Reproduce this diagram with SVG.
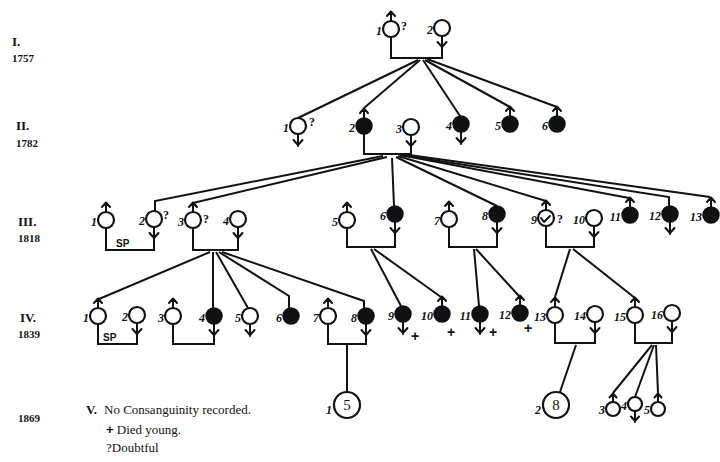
<svg xmlns="http://www.w3.org/2000/svg" xmlns:xlink="http://www.w3.org/1999/xlink" width="720" height="462" viewBox="0 0 720 462">
<style>
.bg{fill:#fff}
.o{fill:#fff;stroke:#111;stroke-width:2.2}
.b{fill:#111;stroke:#111;stroke-width:1.5}
.mk{fill:none;stroke:#111;stroke-width:2;stroke-linecap:round;stroke-linejoin:round}
.ln{fill:none;stroke:#111;stroke-width:2;stroke-linejoin:miter}
.n{font-family:"Liberation Serif",serif;font-size:12px;fill:#111;font-style:italic;font-weight:bold;text-anchor:end}
.q{font-family:"Liberation Serif",serif;font-size:12px;fill:#111;font-weight:bold}
.sp{font-family:"Liberation Sans",sans-serif;font-size:10px;fill:#111;font-weight:bold}
.g{font-family:"Liberation Serif",serif;font-size:13px;font-weight:bold;fill:#111}
.y{font-family:"Liberation Serif",serif;font-size:11px;font-weight:bold;fill:#111}
.lg{font-family:"Liberation Serif",serif;font-size:13px;fill:#111}
.pl{font-family:"Liberation Sans",sans-serif;font-size:14px;font-weight:bold;fill:#111}
.big{font-family:"Liberation Serif",serif;font-size:15px;fill:#111}
</style>
<defs>
<circle id="o" class="o" r="8"/>
<circle id="b" class="b" r="8"/>
<circle id="os" class="o" r="7"/>
<path id="m" class="mk" d="M0,-8 V-17 M-4,-13 L0,-17.5 L4,-13"/>
<path id="f" class="mk" d="M0,8 V20 M-4.5,14 L0,19 L4.5,14"/>
<path id="ms" class="mk" d="M0,-7 V-15 M-3.5,-11.5 L0,-15.5 L3.5,-11.5"/>
<path id="fs" class="mk" d="M0,7 V18 M-4,12.5 L0,17 L4,12.5"/>
</defs>
<rect class="bg" width="720" height="462"/>

<g id="gen-labels">
<text class="g" x="12" y="46">I.</text><text class="y" x="12" y="62">1757</text>
<text class="g" x="16" y="130">II.</text><text class="y" x="16" y="147">1782</text>
<text class="g" x="18" y="226">III.</text><text class="y" x="18" y="242">1818</text>
<text class="g" x="20" y="322">IV.</text><text class="y" x="18" y="338">1839</text>
<text class="y" x="18" y="422">1869</text>
</g>

<g id="connectors">
<path class="ln" d="M391,37 V58 H442 V36"/>
<path class="ln" d="M418,60 L298,118"/>
<path class="ln" d="M420,60 L364,108"/>
<path class="ln" d="M423,60 L460,116"/>
<path class="ln" d="M425,60 L510,107"/>
<path class="ln" d="M427,59 L557,107"/>
<path class="ln" d="M364,134 V154 H411 V135"/>
<path class="ln" d="M383,156 L155,201 V211"/>
<path class="ln" d="M387,157 L193,203"/>
<path class="ln" d="M392,158 L394,206"/>
<path class="ln" d="M396,157 L497,206"/>
<path class="ln" d="M398,156 L546,201"/>
<path class="ln" d="M400,155 L629,198"/>
<path class="ln" d="M401,155 L669,197 V206"/>
<path class="ln" d="M402,154 L710,197"/>
<path class="ln" d="M106,228 V250 H154 V232"/>
<path class="ln" d="M193,228 V250 H238 V232"/>
<path class="ln" d="M347,228 V247 H395 V226"/>
<path class="ln" d="M449,227 V247 H497 V226"/>
<path class="ln" d="M546,226 V247 H594 V230"/>
<path class="ln" d="M210,252 L99,299"/>
<path class="ln" d="M213,252 L213,308"/>
<path class="ln" d="M216,252 L248,308"/>
<path class="ln" d="M219,252 L289,296 V308"/>
<path class="ln" d="M222,252 L364,301 V308"/>
<path class="ln" d="M371,249 L401,306"/>
<path class="ln" d="M374,249 L441,297"/>
<path class="ln" d="M474,249 L479,306"/>
<path class="ln" d="M476,249 L519,296"/>
<path class="ln" d="M570,249 L555,297"/>
<path class="ln" d="M573,249 L635,298"/>
<path class="ln" d="M98,324 V344 H137 V328"/>
<path class="ln" d="M173,324 V344 H214 V330"/>
<path class="ln" d="M328,324 V344 H366 V330"/>
<path class="ln" d="M555,323 V343 H595 V327"/>
<path class="ln" d="M635,323 V343 H672 V326"/>
<path class="ln" d="M347,344 V392"/>
<path class="ln" d="M576,345 L560,392"/>
<path class="ln" d="M652,345 L613,393"/>
<path class="ln" d="M654,345 L635,397"/>
<path class="ln" d="M656,345 L658,393"/>
</g>

<g id="I-1"><use href="#m" x="391" y="29"/><use href="#o" x="391" y="29"/><text class="n" x="382" y="35">1</text><text class="q" x="401" y="30">?</text></g>
<g id="I-2"><use href="#f" x="442" y="28"/><use href="#o" x="442" y="28"/><text class="n" x="433" y="34">2</text></g>

<g id="II-1"><use href="#f" x="298" y="126"/><use href="#o" x="298" y="126"/><text class="n" x="289" y="132">1</text><text class="q" x="309" y="126">?</text></g>
<g id="II-2"><use href="#m" x="364" y="126"/><use href="#b" x="364" y="126"/><text class="n" x="355" y="132">2</text></g>
<g id="II-3"><use href="#f" x="411" y="127"/><use href="#o" x="411" y="127"/><text class="n" x="402" y="133">3</text></g>
<g id="II-4"><use href="#f" x="461" y="124"/><use href="#b" x="461" y="124"/><text class="n" x="452" y="130">4</text></g>
<g id="II-5"><use href="#m" x="510" y="124"/><use href="#b" x="510" y="124"/><text class="n" x="501" y="130">5</text></g>
<g id="II-6"><use href="#m" x="557" y="124"/><use href="#b" x="557" y="124"/><text class="n" x="548" y="130">6</text></g>

<g id="III-1"><use href="#m" x="106" y="220"/><use href="#o" x="106" y="220"/><text class="n" x="97" y="226">1</text></g>
<g id="III-2"><use href="#f" x="154" y="219"/><use href="#o" x="154" y="219"/><text class="n" x="145" y="225">2</text><text class="q" x="163" y="219">?</text></g>
<g id="III-3"><use href="#m" x="193" y="220"/><use href="#o" x="193" y="220"/><text class="n" x="184" y="226">3</text><text class="q" x="203" y="223">?</text></g>
<g id="III-4"><use href="#f" x="238" y="219"/><use href="#o" x="238" y="219"/><text class="n" x="229" y="225">4</text></g>
<text class="sp" x="116" y="247">SP</text>
<g id="III-5"><use href="#m" x="347" y="220"/><use href="#o" x="347" y="220"/><text class="n" x="338" y="226">5</text></g>
<g id="III-6"><use href="#f" x="395" y="214"/><use href="#b" x="395" y="214"/><text class="n" x="386" y="220">6</text></g>
<g id="III-7"><use href="#m" x="449" y="219"/><use href="#o" x="449" y="219"/><text class="n" x="440" y="225">7</text></g>
<g id="III-8"><use href="#f" x="497" y="214"/><use href="#b" x="497" y="214"/><text class="n" x="488" y="220">8</text></g>
<g id="III-9"><use href="#m" x="546" y="218"/><use href="#o" x="546" y="218"/><path class="mk" d="M541,218 L544,222 L550,216"/><text class="n" x="537" y="224">9</text><text class="q" x="557" y="223">?</text></g>
<g id="III-10"><use href="#f" x="594" y="218"/><use href="#o" x="594" y="218"/><text class="n" x="585" y="224">10</text></g>
<g id="III-11"><use href="#m" x="630" y="215"/><use href="#b" x="630" y="215"/><text class="n" x="621" y="221">11</text></g>
<g id="III-12"><use href="#f" x="670" y="214"/><use href="#b" x="670" y="214"/><text class="n" x="661" y="220">12</text></g>
<g id="III-13"><use href="#m" x="711" y="215"/><use href="#b" x="711" y="215"/><text class="n" x="702" y="221">13</text></g>

<g id="IV-1"><use href="#m" x="98" y="316"/><use href="#o" x="98" y="316"/><text class="n" x="89" y="322">1</text></g>
<g id="IV-2"><use href="#f" x="137" y="315"/><use href="#o" x="137" y="315"/><text class="n" x="128" y="321">2</text></g>
<text class="sp" x="103" y="341">SP</text>
<g id="IV-3"><use href="#m" x="173" y="316"/><use href="#o" x="173" y="316"/><text class="n" x="164" y="322">3</text></g>
<g id="IV-4"><use href="#f" x="214" y="316"/><use href="#b" x="214" y="316"/><text class="n" x="205" y="322">4</text></g>
<g id="IV-5"><use href="#f" x="250" y="316"/><use href="#o" x="250" y="316"/><text class="n" x="241" y="322">5</text></g>
<g id="IV-6"><use href="#b" x="291" y="316"/><text class="n" x="282" y="322">6</text></g>
<g id="IV-7"><use href="#m" x="328" y="316"/><use href="#o" x="328" y="316"/><text class="n" x="319" y="322">7</text></g>
<g id="IV-8"><use href="#f" x="366" y="316"/><use href="#b" x="366" y="316"/><text class="n" x="357" y="322">8</text></g>
<g id="IV-9"><use href="#f" x="403" y="314"/><use href="#b" x="403" y="314"/><text class="n" x="394" y="320">9</text><text class="pl" x="411" y="341">+</text></g>
<g id="IV-10"><use href="#m" x="442" y="314"/><use href="#b" x="442" y="314"/><text class="n" x="433" y="320">10</text><text class="pl" x="447" y="337">+</text></g>
<g id="IV-11"><use href="#f" x="480" y="314"/><use href="#b" x="480" y="314"/><text class="n" x="471" y="320">11</text><text class="pl" x="489" y="337">+</text></g>
<g id="IV-12"><use href="#m" x="520" y="313"/><use href="#b" x="520" y="313"/><text class="n" x="511" y="319">12</text><text class="pl" x="524" y="333">+</text></g>
<g id="IV-13"><use href="#m" x="555" y="315"/><use href="#o" x="555" y="315"/><text class="n" x="546" y="321">13</text></g>
<g id="IV-14"><use href="#f" x="595" y="314"/><use href="#o" x="595" y="314"/><text class="n" x="586" y="320">14</text></g>
<g id="IV-15"><use href="#m" x="635" y="315"/><use href="#o" x="635" y="315"/><text class="n" x="626" y="321">15</text></g>
<g id="IV-16"><use href="#f" x="672" y="313"/><use href="#o" x="672" y="313"/><text class="n" x="663" y="319">16</text></g>

<g id="V-1"><circle class="o" cx="347" cy="405" r="13"/><text class="big" x="347" y="410" text-anchor="middle">5</text><text class="n" x="332" y="414">1</text></g>
<g id="V-2"><circle class="o" cx="556" cy="405" r="13"/><text class="big" x="556" y="410" text-anchor="middle">8</text><text class="n" x="541" y="414">2</text></g>
<g id="V-3"><use href="#ms" x="613" y="409"/><use href="#os" x="613" y="409"/><text class="n" x="605" y="414">3</text></g>
<g id="V-4"><use href="#fs" x="635" y="404"/><use href="#os" x="635" y="404"/><text class="n" x="627" y="410">4</text></g>
<g id="V-5"><use href="#ms" x="658" y="409"/><use href="#os" x="658" y="409"/><text class="n" x="650" y="414">5</text></g>

<g id="legend">
<text class="g" x="86" y="414">V.</text>
<text class="lg" x="104" y="414">No Consanguinity recorded.</text>
<text class="lg" x="106" y="434"><tspan font-family="Liberation Sans" font-weight="bold">+</tspan> Died young.</text>
<text class="lg" x="106" y="452">?Doubtful</text>
</g>
</svg>
